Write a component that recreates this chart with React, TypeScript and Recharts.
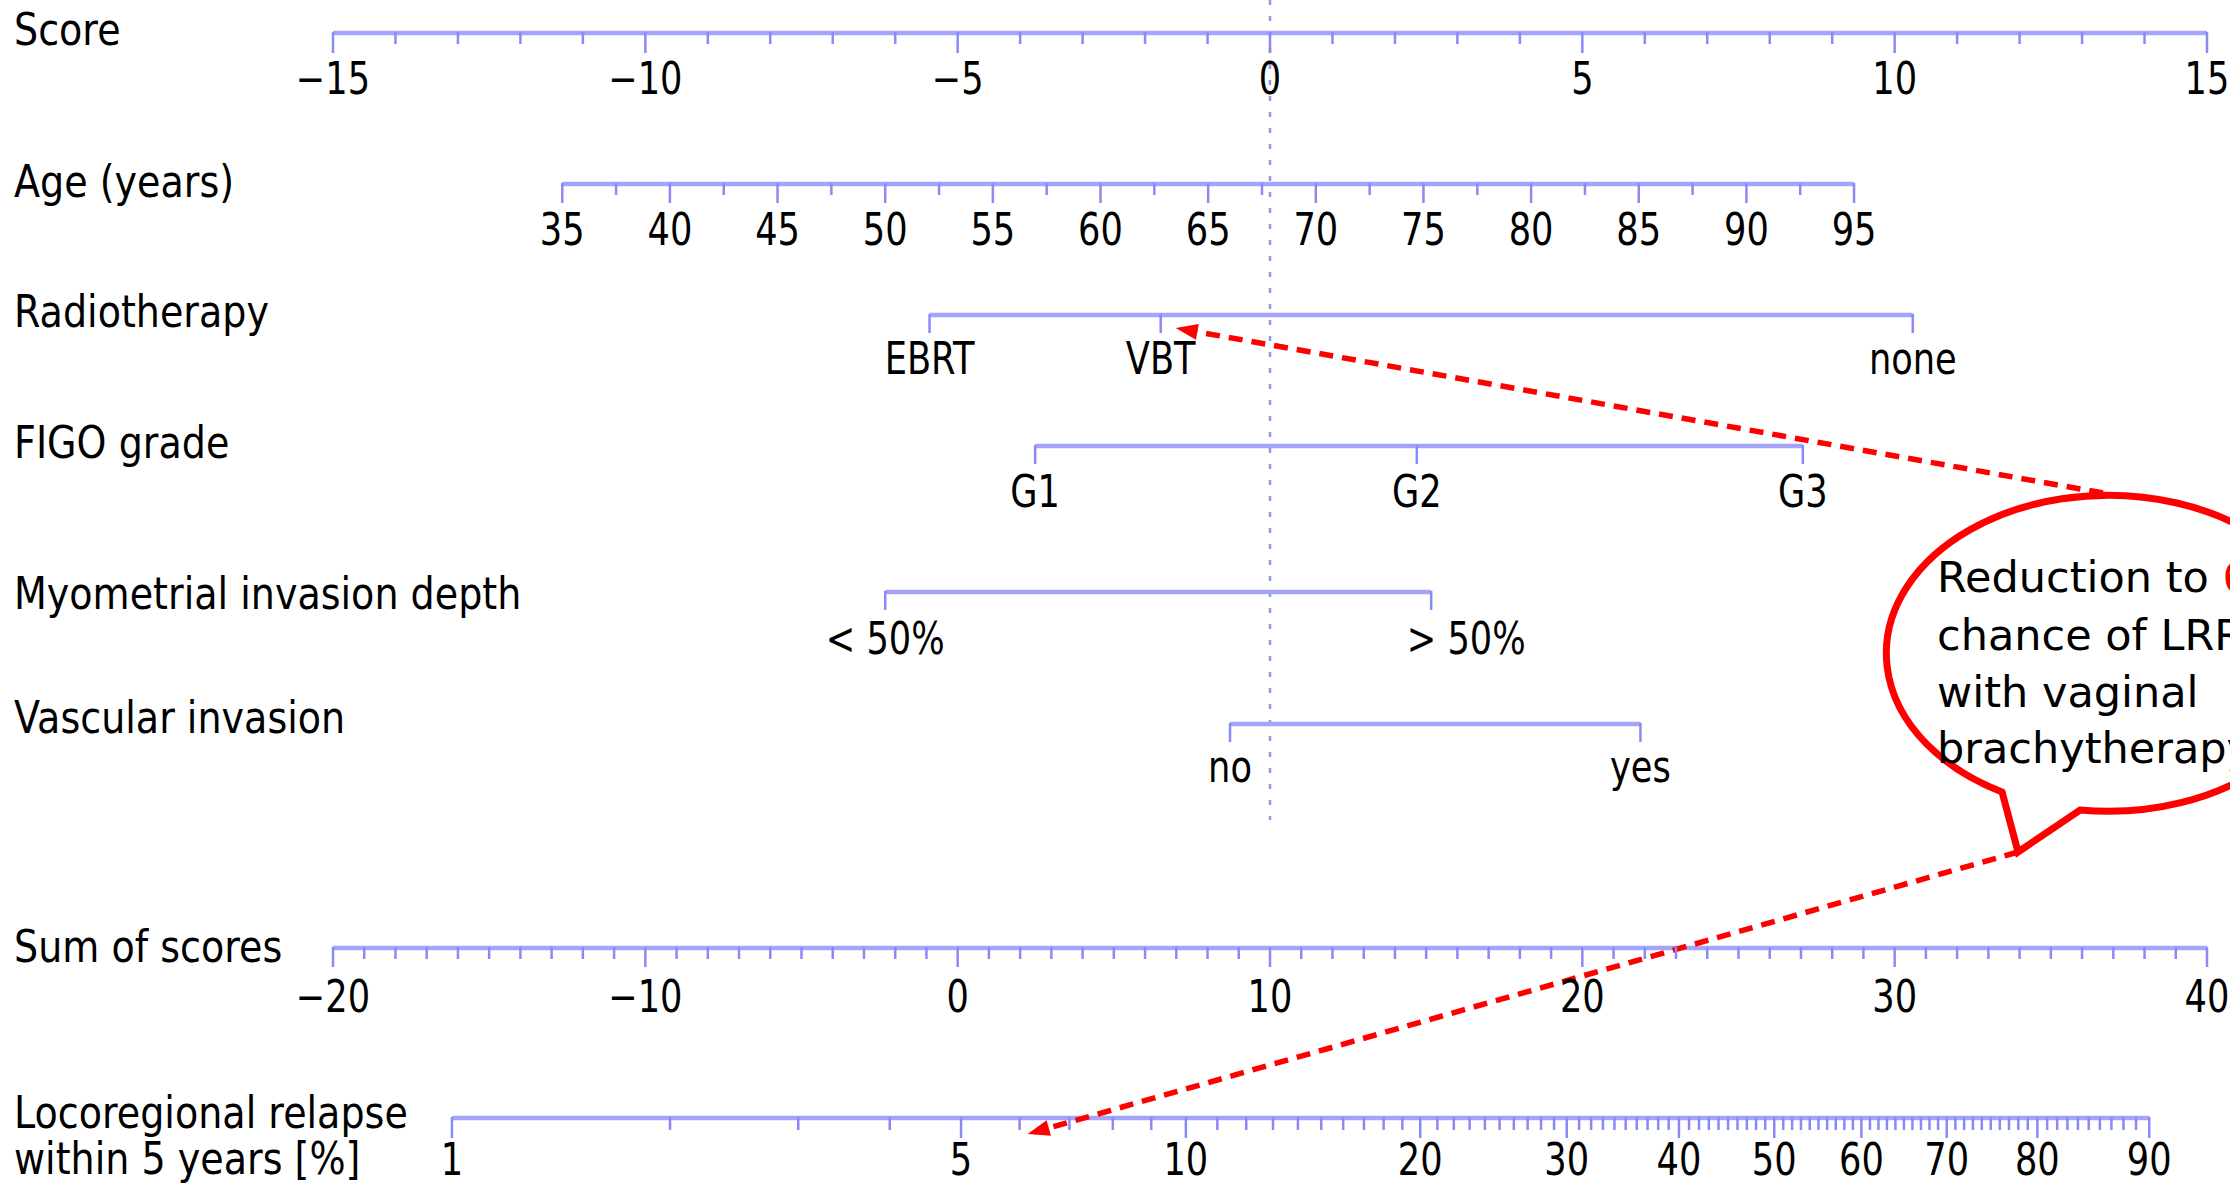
import React from 'react';
import { ComposedChart, XAxis, YAxis, Scatter, ReferenceLine, ReferenceDot } from 'recharts';

const W = 2230;
const H = 1186;

// ---------------- data ----------------
const scoreLabels = [-15, -10, -5, 0, 5, 10, 15];
const ageLabels = [35, 40, 45, 50, 55, 60, 65, 70, 75, 80, 85, 90, 95];
const ageMinor = [37.5, 42.5, 47.5, 52.5, 57.5, 62.5, 67.5, 72.5, 77.5, 82.5, 87.5, 92.5];
const ageScoreAt35 = -11.33; // points for age 35
const ageScoreAt95 = 9.35; // points for age 95
const radiotherapyLevels = ['EBRT', 'VBT', 'none'];
const radiotherapyScores = [-5.45, -1.75, 10.29];
const figoLevels = ['G1', 'G2', 'G3'];
const figoScores = [-3.76, 2.35, 8.53];
const myometrialLevels = ['< 50%', '> 50%'];
const myometrialScores = [-6.16, 2.58];
const vascularLevels = ['no', 'yes'];
const vascularScores = [-0.64, 5.93];
const sumLabels = [-20, -10, 0, 10, 20, 30, 40];
const relapseLabels = [1, 5, 10, 20, 30, 40, 50, 60, 70, 80, 90];
const relapseIntercept = 29.81; // sum of scores where log(-log(1-p)) = 0
const relapseSlope = 10; // sum-of-score units per unit of log(-log(1-p))
const rowTitles = [
  ['Score'],
  ['Age (years)'],
  ['Radiotherapy'],
  ['FIGO grade'],
  ['Myometrial invasion depth'],
  ['Vascular invasion'],
  ['Sum of scores'],
  ['Locoregional relapse', 'within 5 years [%]'],
];
const calloutLevel = 'VBT';
const calloutRelapse = 6; // %
const calloutLines = ['Reduction to ', 'chance of LRR', 'with vaginal', 'brachytherapy'];
const calloutValue = '6%';

// ---------------- layout ----------------
const FONT = '"DejaVu Sans", Verdana, sans-serif';
const PX_LEFT = 333; // where score -15 / sum -20 sit
const PX_RIGHT = 2207; // where score 15 / sum 40 sit
const PX_PER_PT = (PX_RIGHT - PX_LEFT) / 30;
const SCORE_DOMAIN: [number, number] = [-15 - PX_LEFT / PX_PER_PT, 15 + (W - PX_RIGHT) / PX_PER_PT];
const scoreToSum = (s: number) => 10 + 2 * s;
const sumToScore = (s: number) => (s - 10) / 2;
const SUM_DOMAIN: [number, number] = [scoreToSum(SCORE_DOMAIN[0]), scoreToSum(SCORE_DOMAIN[1])];
const scoreToAge = (s: number) => 35 + ((s - ageScoreAt35) * 60) / (ageScoreAt95 - ageScoreAt35);
const AGE_DOMAIN: [number, number] = [scoreToAge(SCORE_DOMAIN[0]), scoreToAge(SCORE_DOMAIN[1])];
const relapseToSum = (p: number) => relapseIntercept + relapseSlope * Math.log(-Math.log(1 - p / 100));

const ROWS = {
  score: { y: 33, label: 61, title: 12 },
  age: { y: 184, label: 61, title: 13 },
  radio: { y: 315, label: 59, title: 12 },
  figo: { y: 446, label: 61, title: 12 },
  myo: { y: 592, label: 62, title: 17 },
  vasc: { y: 724, label: 58, title: 9 },
  sum: { y: 948, label: 64, title: 14 },
  relapse: { y: 1118, label: 57, title: 10 },
};
const ROW_ORDER = [ROWS.score, ROWS.age, ROWS.radio, ROWS.figo, ROWS.myo, ROWS.vasc, ROWS.sum, ROWS.relapse];
const TITLE_LEAD = 46;
const TITLE_SX = 0.865;

const LABEL_DX: Record<string, number> = { '> 50%': 35 };
const AXIS_COLOR = '#a4a4fb';
const TICK_COLOR = '#8a8af6';
const RED = '#ff0000';
const CALLOUT_AT = { x: 13.4, y: 653 };
const BUB = { rx: 222, ry: 158, ax: -105, ay: 139, tx: -89, ty: 199, bx: -27, by: 157 };

// ---------------- tick builders ----------------
type Tk = { x: number; y: number; len: number; label?: string; dy: number; dx?: number };
const fmt = (v: number) => (v < 0 ? `\u2212${-v}` : `${v}`);
const intsBetween = (a: number, b: number) => {
  const out: number[] = [];
  for (let v = a; v <= b; v++) out.push(v);
  return out;
};

const numericRow = (
  labels: number[],
  minors: number[],
  row: { y: number; label: number },
  map: (v: number) => number,
  majorLen: number,
  minorLen: number
): Tk[] => [
  ...minors.filter((v) => !labels.includes(v)).map((v) => ({ x: map(v), y: row.y, len: minorLen, dy: row.label })),
  ...labels.map((v) => ({ x: map(v), y: row.y, len: majorLen, label: fmt(v), dy: row.label })),
];

const catRow = (levels: string[], scores: number[], row: { y: number; label: number }): Tk[] =>
  levels.map((l, i) => ({ x: scores[i], y: row.y, len: 18, label: l, dy: row.label, dx: LABEL_DX[l] ?? 0 }));

const id = (v: number) => v;
const scoreTicks = numericRow(scoreLabels, intsBetween(-15, 15), ROWS.score, id, 20, 11);
const ageTicks = numericRow(ageLabels, ageMinor, ROWS.age, id, 19, 11);
const radioTicks = catRow(radiotherapyLevels, radiotherapyScores, ROWS.radio);
const figoTicks = catRow(figoLevels, figoScores, ROWS.figo);
const myoTicks = catRow(myometrialLevels, myometrialScores, ROWS.myo);
const vascTicks = catRow(vascularLevels, vascularScores, ROWS.vasc);
const sumTicks = numericRow(sumLabels, intsBetween(-20, 40), ROWS.sum, id, 19, 11);
const relapseTicks = numericRow(relapseLabels, intsBetween(2, 89), ROWS.relapse, relapseToSum, 20, 12);

const titlePoints = rowTitles.map((lines, i) => ({
  x: SCORE_DOMAIN[0],
  y: ROW_ORDER[i].y,
  dy: ROW_ORDER[i].title,
  lines,
}));

const span = (xs: number[]) => [Math.min(...xs), Math.max(...xs)];

// ---------------- shapes ----------------
function TickShape(props: any) {
  const { cx, cy, payload } = props;
  if (cx == null || cy == null) return null;
  return (
    <g>
      <line x1={cx} y1={cy - 1} x2={cx} y2={cy + payload.len} stroke={TICK_COLOR} strokeWidth={2.5} />
      {payload.label ? (
        <text
          transform={`translate(${cx + (payload.dx || 0)},${cy + payload.dy}) scale(0.8,1)`}
          textAnchor="middle"
          fontFamily={FONT}
          fontSize={44}
          fill="#000"
        >
          {payload.label}
        </text>
      ) : null}
    </g>
  );
}

function TitleShape(props: any) {
  const { cx, cy, payload } = props;
  if (cx == null || cy == null) return null;
  return (
    <g>
      {payload.lines.map((ln: string, i: number) => (
        <text
          key={i}
          transform={`translate(${cx + 14},${cy + payload.dy + i * TITLE_LEAD}) scale(${TITLE_SX},1)`}
          fontFamily={FONT}
          fontSize={44}
          fill="#000"
        >
          {ln}
        </text>
      ))}
    </g>
  );
}

function Bubble(props: any) {
  const { cx, cy } = props;
  if (cx == null) return null;
  const A = `${cx + BUB.ax},${cy + BUB.ay}`;
  const T = `${cx + BUB.tx},${cy + BUB.ty}`;
  const B = `${cx + BUB.bx},${cy + BUB.by}`;
  const d = `M ${A} L ${T} L ${B} A ${BUB.rx} ${BUB.ry} 0 1 0 ${A} Z`;
  const tx = cx - 170;
  const base = [-61, -3, 54, 110];
  return (
    <g>
      <path d={d} fill="#fff" stroke={RED} strokeWidth={7} strokeLinejoin="miter" />
      {calloutLines.map((ln, i) => (
        <text key={i} x={tx} y={cy + base[i]} fontFamily={FONT} fontSize={43} fill="#000" style={{ whiteSpace: 'pre' }}>
          {ln}
          {i === 0 ? <tspan fill={RED}>{calloutValue}</tspan> : null}
        </text>
      ))}
    </g>
  );
}

function DashedArrow(props: any) {
  const { x1, y1, x2, y2 } = props;
  if (x1 == null) return null;
  const dx = x2 - x1;
  const dy = y2 - y1;
  const len = Math.hypot(dx, dy) || 1;
  const ux = dx / len;
  const uy = dy / len;
  const HL = 22;
  const HW = 8;
  const bx = x2 - ux * HL;
  const by = y2 - uy * HL;
  return (
    <g>
      <line x1={x1} y1={y1} x2={bx + ux * 2} y2={by + uy * 2} stroke={RED} strokeWidth={5.5} strokeDasharray="14 9" />
      <polygon points={`${x2},${y2} ${bx - uy * HW},${by + ux * HW} ${bx + uy * HW},${by - ux * HW}`} fill={RED} />
    </g>
  );
}

// ---------------- chart ----------------
export default function App() {
  const axisRows: { id: string; ticks: Tk[] }[] = [
    { id: 'score', ticks: scoreTicks },
    { id: 'age', ticks: ageTicks },
    { id: 'score', ticks: radioTicks },
    { id: 'score', ticks: figoTicks },
    { id: 'score', ticks: myoTicks },
    { id: 'score', ticks: vascTicks },
    { id: 'sum', ticks: sumTicks },
    { id: 'sum', ticks: relapseTicks },
  ];

  const vbtScore = radiotherapyScores[radiotherapyLevels.indexOf(calloutLevel)];
  const arrow1 = [
    { x: CALLOUT_AT.x - 4 / PX_PER_PT, y: CALLOUT_AT.y - BUB.ry - 2 },
    { x: vbtScore + 15 / PX_PER_PT, y: ROWS.radio.y + 13 },
  ];
  const arrow2 = [
    { x: CALLOUT_AT.x + BUB.tx / PX_PER_PT, y: CALLOUT_AT.y + BUB.ty },
    { x: sumToScore(relapseToSum(calloutRelapse)) + 8 / PX_PER_PT, y: ROWS.relapse.y + 16 },
  ];

  return (
    <div style={{ position: 'absolute', left: 0, top: 0, width: W, height: H, background: '#fff', overflow: 'hidden' }}>
      <ComposedChart width={W} height={H} margin={{ top: 0, right: 0, bottom: 0, left: 0 }}>
        <XAxis xAxisId="score" type="number" dataKey="x" domain={SCORE_DOMAIN} allowDataOverflow hide />
        <XAxis xAxisId="age" type="number" dataKey="x" domain={AGE_DOMAIN} allowDataOverflow hide />
        <XAxis xAxisId="sum" type="number" dataKey="x" domain={SUM_DOMAIN} allowDataOverflow hide />
        <YAxis type="number" dataKey="y" domain={[0, H]} reversed allowDataOverflow hide />

        <ReferenceLine
          xAxisId="score"
          segment={[
            { x: 0, y: 0 },
            { x: 0, y: 820 },
          ]}
          stroke="#9494f0"
          strokeWidth={2.5}
          strokeDasharray="5 11"
          ifOverflow="visible"
        />

        {axisRows.map((r, i) => {
          const [a, b] = span(r.ticks.map((t) => t.x));
          const y = r.ticks[0].y;
          return (
            <ReferenceLine
              key={`ax${i}`}
              xAxisId={r.id}
              segment={[
                { x: a, y },
                { x: b, y },
              ]}
              stroke={AXIS_COLOR}
              strokeWidth={4.5}
              ifOverflow="visible"
            />
          );
        })}

        <Scatter xAxisId="score" data={titlePoints} shape={(p: any) => <TitleShape {...p} />} isAnimationActive={false} />

        {axisRows.map((r, i) => (
          <Scatter key={`tk${i}`} xAxisId={r.id} data={r.ticks} shape={(p: any) => <TickShape {...p} />} isAnimationActive={false} />
        ))}

        <ReferenceDot xAxisId="score" x={CALLOUT_AT.x} y={CALLOUT_AT.y} ifOverflow="visible" shape={(p: any) => <Bubble {...p} />} />
        <ReferenceLine xAxisId="score" segment={arrow1} ifOverflow="visible" shape={(p: any) => <DashedArrow {...p} />} />
        <ReferenceLine xAxisId="score" segment={arrow2} ifOverflow="visible" shape={(p: any) => <DashedArrow {...p} />} />
      </ComposedChart>
    </div>
  );
}
